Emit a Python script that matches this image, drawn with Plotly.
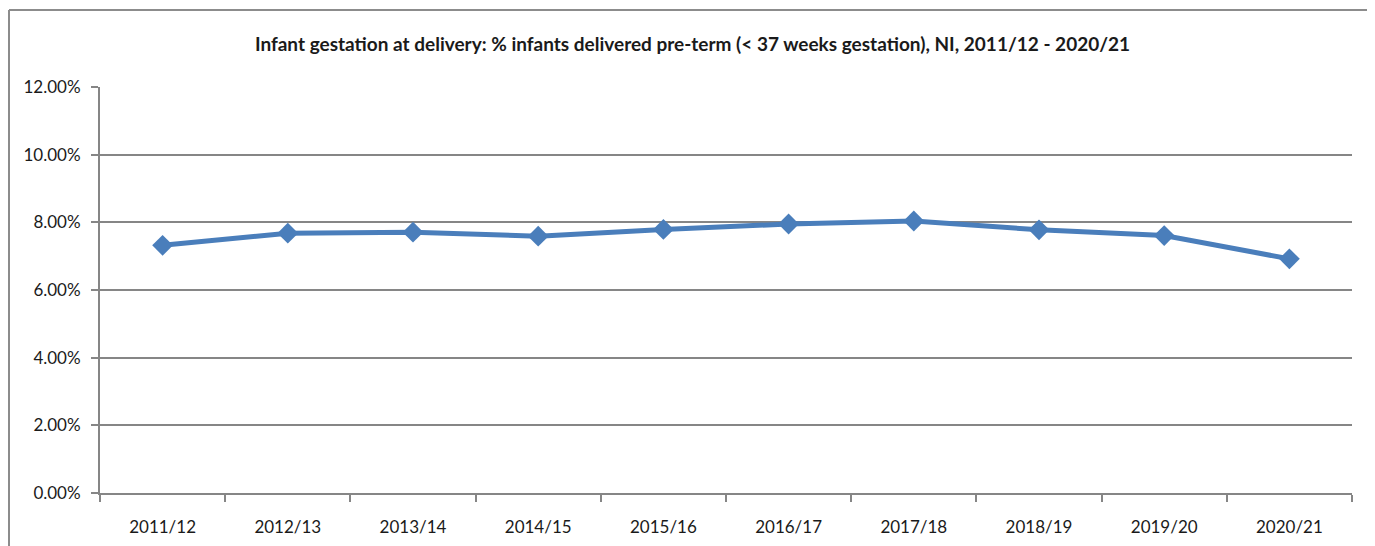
import plotly.graph_objects as go

years = ["2011/12", "2012/13", "2013/14", "2014/15", "2015/16",
         "2016/17", "2017/18", "2018/19", "2019/20", "2020/21"]
preterm_pct = [7.32, 7.68, 7.71, 7.59, 7.79, 7.95, 8.04, 7.78, 7.61, 6.92]
y_ticks = [0, 2, 4, 6, 8, 10, 12]
y_tick_labels = ["0.00%", "2.00%", "4.00%", "6.00%", "8.00%", "10.00%", "12.00%"]

title = "Infant gestation at delivery: % infants delivered pre-term (< 37 weeks gestation), NI, 2011/12 - 2020/21"

W, H = 1375, 546
L, R, T, B = 92, 31, 79, 61
pw, ph = W - L - R, H - T - B


def px(x):
    return (x - L) / pw


def py(y):
    return (H - B - y) / ph


fig = go.Figure()
fig.add_trace(go.Scatter(
    x=years, y=preterm_pct, mode="lines+markers",
    line=dict(color="#4A7EBB", width=5),
    marker=dict(symbol="diamond", size=16, color="#4A7EBB"),
    showlegend=False,
))

font_family = "Lato, Open Sans, Arial"
border = dict(color="#8c8c8c", width=2)
fig.update_layout(
    width=W, height=H,
    margin=dict(l=L, r=R, t=T, b=B),
    paper_bgcolor="white", plot_bgcolor="white",
    title=dict(text="<b>" + title + "</b>", xref="container", x=684.5 / W, xanchor="center",
               yref="container", y=1 - 36 / H, yanchor="middle",
               font=dict(family=font_family, size=19, color="#1a1a1a")),
    font=dict(family=font_family, size=17, color="#1a1a1a"),
    xaxis=dict(
        type="category", range=[-0.5, 9.5], showgrid=False, showline=True,
        linecolor="#868686", linewidth=2,
        ticks="outside", tickson="boundaries", ticklen=7, tickcolor="#868686", tickwidth=1.5,
        tickfont=dict(size=17), ticklabelstandoff=18,
    ),
    yaxis=dict(
        range=[0, 12], tickvals=y_ticks, ticktext=y_tick_labels,
        showgrid=True, gridcolor="#868686", gridwidth=2,
        showline=True, linecolor="#868686", linewidth=2,
        ticks="outside", ticklen=7, tickcolor="#868686", tickwidth=1.5,
        tickfont=dict(size=17), zeroline=False, ticklabelstandoff=7,
    ),
    shapes=[
        dict(type="line", xref="paper", yref="paper", x0=px(1), x1=px(1363), y0=py(2), y1=py(2), line=border),
        dict(type="line", xref="paper", yref="paper", x0=px(1), x1=px(1), y0=py(2), y1=py(H + 5), line=border),
        dict(type="line", xref="paper", yref="paper", x0=px(1363), x1=px(1363), y0=py(2), y1=py(H + 5), line=border),
    ],
)

fig.write_html("out.html")
